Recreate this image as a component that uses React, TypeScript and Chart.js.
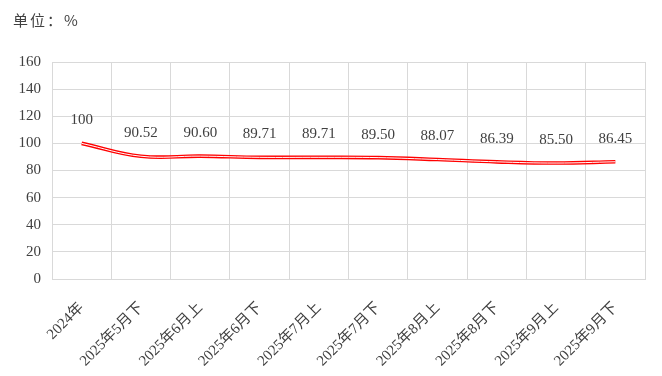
import React, { useEffect, useRef } from "react";
import { Chart, registerables } from "chart.js";

Chart.register(...registerables);

const categories = [
  "2024年",
  "2025年5月下",
  "2025年6月上",
  "2025年6月下",
  "2025年7月上",
  "2025年7月下",
  "2025年8月上",
  "2025年8月下",
  "2025年9月上",
  "2025年9月下",
];
const values = [100, 90.52, 90.6, 89.71, 89.71, 89.5, 88.07, 86.39, 85.5, 86.45];
const valueLabels = ["100", "90.52", "90.60", "89.71", "89.71", "89.50", "88.07", "86.39", "85.50", "86.45"];
const yTicks = [0, 20, 40, 60, 80, 100, 120, 140, 160];

const SERIF = "'Liberation Serif', 'Times New Roman', 'Noto Sans CJK SC', serif";
const TEXT = "#404040";

const labelPlugin = {
  id: "valueLabels",
  afterDatasetsDraw(chart: any) {
    const meta = chart.getDatasetMeta(0);
    const ctx = chart.ctx;
    ctx.save();
    ctx.font = `15px ${SERIF}`;
    ctx.fillStyle = TEXT;
    ctx.textAlign = "center";
    ctx.textBaseline = "middle";
    meta.data.forEach((pt: any, i: number) => {
      ctx.fillText(valueLabels[i], pt.x, pt.y - 23);
    });
    ctx.restore();
  },
};

export default function App() {
  const ref = useRef<HTMLCanvasElement | null>(null);
  useEffect(() => {
    if (!ref.current) return;
    const chart = new Chart(ref.current, {
      type: "line",
      data: {
        labels: categories,
        datasets: [
          {
            data: values,
            borderColor: "#ff0000",
            borderWidth: 3.6,
            pointRadius: 0,
            tension: 0.4,
            fill: false,
            order: 2,
          },
          {
            data: values,
            borderColor: "#ffffff",
            borderWidth: 1,
            pointRadius: 0,
            tension: 0.4,
            fill: false,
            order: 1,
          },
        ],
      },
      options: {
        animation: false,
        responsive: false,
        maintainAspectRatio: false,
        layout: { padding: { top: 62, right: 17, bottom: 0, left: 0 } },
        plugins: {
          legend: { display: false },
          tooltip: { enabled: false },
          title: { display: false },
        },
        scales: {
          x: {
            offset: true,
            grid: { offset: true, color: "#d9d9d9", drawTicks: false },
            border: { color: "#d9d9d9" },
            ticks: {
              minRotation: 45,
              maxRotation: 45,
              autoSkip: false,
              padding: 20,
              color: TEXT,
              font: { family: SERIF, size: 15 },
            },
            afterFit(scale: any) {
              scale.height = 97;
            },
          },
          y: {
            min: 0,
            max: 160,
            afterBuildTicks(scale: any) {
              scale.ticks = yTicks.map((v) => ({ value: v }));
            },
            grid: { color: "#d9d9d9", drawTicks: false },
            border: { display: false },
            ticks: {
              padding: 11,
              color: TEXT,
              font: { family: SERIF, size: 15 },
            },
            afterFit(scale: any) {
              scale.width = 52;
            },
          },
        },
      },
      plugins: [labelPlugin],
    });
    return () => chart.destroy();
  }, []);

  return (
    <div style={{ position: "fixed", left: 0, top: 0, width: 662, height: 376, background: "#fff" }}>
      <canvas ref={ref} width={662} height={376} style={{ position: "absolute", left: 0, top: 0 }} />
      <div
        style={{
          position: "absolute",
          left: 13,
          top: 10,
          fontFamily: "'Noto Sans CJK SC', sans-serif",
          fontSize: 15,
          letterSpacing: "2px",
          color: TEXT,
          lineHeight: "20px",
          whiteSpace: "nowrap",
        }}
      >
        单位：%
      </div>
    </div>
  );
}
